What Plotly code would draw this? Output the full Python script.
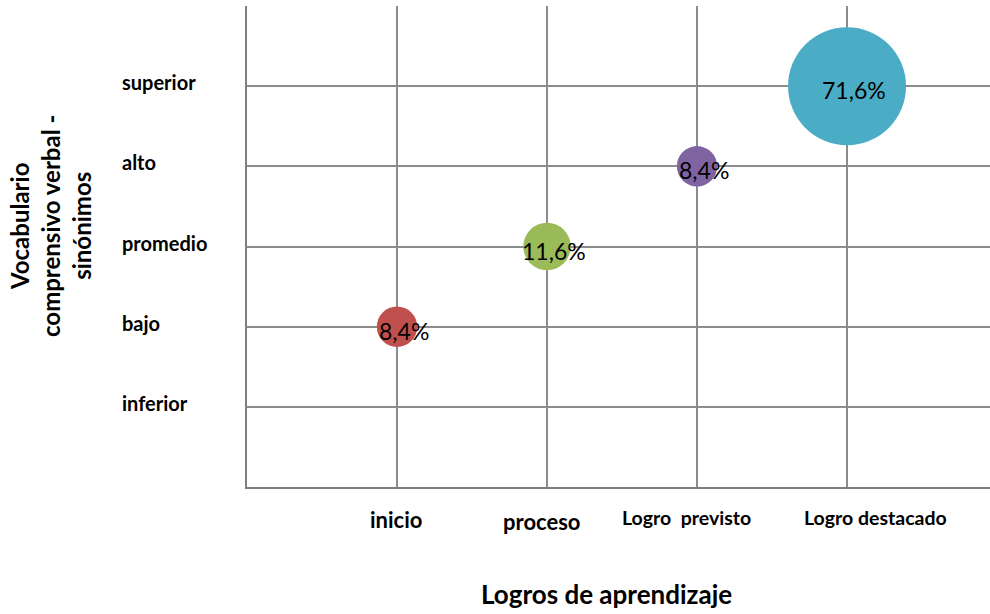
import plotly.graph_objects as go

# Data
x_categories = ["inicio", "proceso", "Logro  previsto", "Logro destacado"]
y_categories = ["inferior", "bajo", "promedio", "alto", "superior"]
x_pos = [1, 2, 3, 4]
y_pos = [2, 3, 4, 5]
percent = [8.4, 11.6, 8.4, 71.6]
labels = ["8,4%", "11,6%", "8,4%", "71,6%"]
colors = ["#C0504D", "#9BBB59", "#8064A2", "#4BACC6"]

FONT = "Lato"
max_diam = 118
sizeref = 2 * max(percent) / max_diam ** 2

fig = go.Figure()
fig.add_trace(go.Scatter(
    x=x_pos, y=y_pos, mode="markers",
    marker=dict(size=percent, sizemode="area", sizeref=sizeref,
                color=colors, opacity=1, line=dict(width=0)),
    hoverinfo="skip", showlegend=False, cliponaxis=False,
))

grid = "#8c8c8c"
fig.update_xaxes(range=[0, 4.953], tickvals=[0, 1, 2, 3, 4, 5], showticklabels=False,
                 showgrid=True, gridcolor=grid, gridwidth=1.5, zeroline=False,
                 showline=True, linecolor="#7f7f7f", linewidth=2, ticks="")
fig.update_yaxes(range=[0, 6], tickvals=[0, 1, 2, 3, 4, 5, 6], showticklabels=False,
                 showgrid=True, gridcolor=grid, gridwidth=1.5, zeroline=False,
                 showline=True, linecolor="#7f7f7f", linewidth=2, ticks="")

annotations = []
# bubble data labels
for xv, yv, lab in zip(x_pos, y_pos, labels):
    annotations.append(dict(text=lab, xref="x", x=xv, yref="y", y=yv, xanchor="center",
                            yanchor="middle", xshift=7, yshift=-4, showarrow=False,
                            font=dict(family=FONT, size=23, color="#000")))
# y category labels (left aligned)
for i, lab in enumerate(y_categories):
    annotations.append(dict(text=f"<b>{lab}</b>", xref="paper", x=(120 - 247) / 743,
                            xanchor="left", yref="y", y=i + 1, yanchor="middle", yshift=4,
                            showarrow=False, font=dict(family=FONT, size=20, color="#000")))
# x category labels
x_lab_pos = [0.99, 1.96, 2.93, 4.19]
x_lab_size = [22, 22, 19.5, 19.5]
x_lab_y = [-32, -34, -30, -30]
for lab, xp, sz, ys in zip(x_categories, x_lab_pos, x_lab_size, x_lab_y):
    annotations.append(dict(text=f"<b>{lab}</b>", xref="x", x=xp, xanchor="center",
                            yref="paper", y=0, yanchor="middle", yshift=ys,
                            showarrow=False, font=dict(family=FONT, size=sz, color="#000")))
# axis titles
annotations.append(dict(text="<b>Logros de aprendizaje</b>", xref="paper", x=(606 - 247) / 743,
                        xanchor="center", yref="paper", y=0, yanchor="middle", yshift=-107,
                        showarrow=False, font=dict(family=FONT, size=26, color="#000")))
annotations.append(dict(text="<b>Vocabulario<br>comprensivo verbal -<br>sinónimos</b>",
                        xref="paper", x=(50 - 247) / 743, xanchor="center",
                        yref="paper", y=(487 - 226) / 481, yanchor="middle",
                        textangle=-90, showarrow=False,
                        font=dict(family=FONT, size=24, color="#000")))

fig.update_layout(
    width=990, height=614,
    margin=dict(l=247, r=0, t=6, b=127),
    paper_bgcolor="white", plot_bgcolor="white",
    annotations=annotations,
    font=dict(family=FONT),
)
fig.write_html("out.html", config={"displayModeBar": False},
               post_script="document.body.style.margin='0';document.body.style.overflow='hidden';")
